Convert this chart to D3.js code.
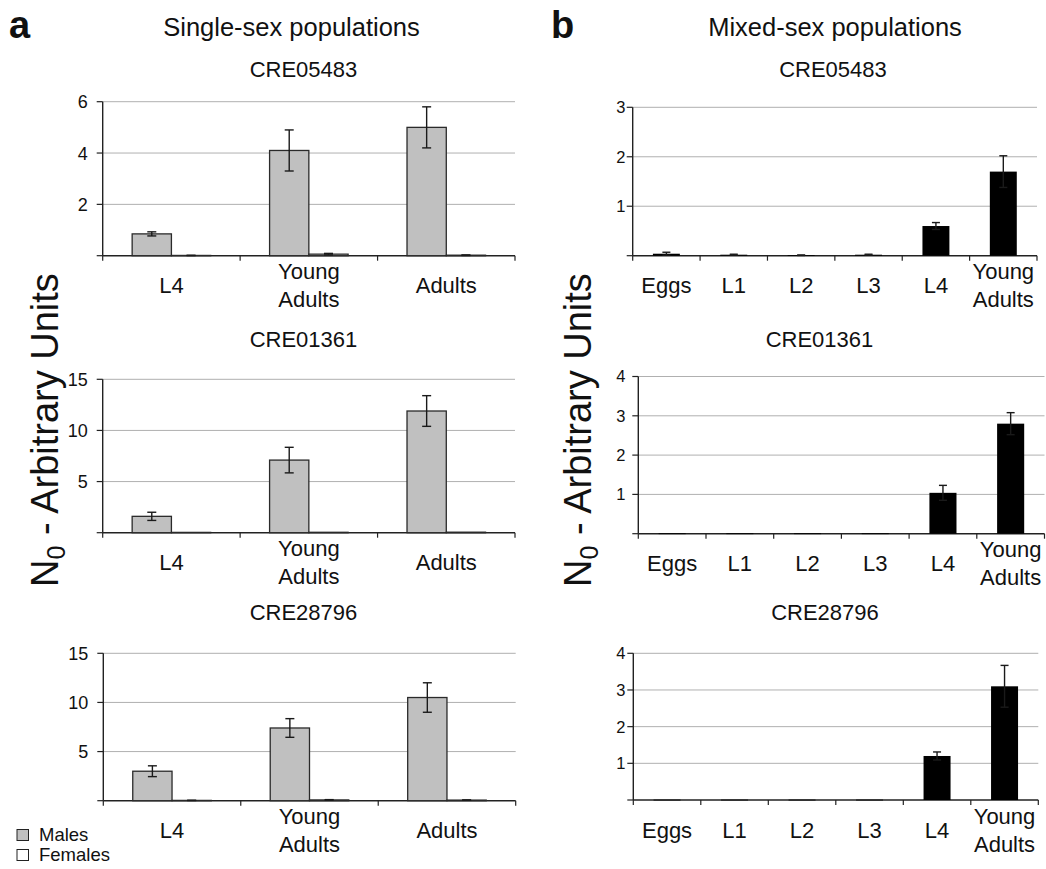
<!DOCTYPE html>
<html>
<head>
<meta charset="utf-8">
<script src="https://cdn.jsdelivr.net/npm/d3@7"></script>
<style>
  body { margin: 0; background: #fff; }
  svg { display: block; }
  text { font-family: "Liberation Sans", Arial, Helvetica, sans-serif; fill: #111; }
</style>
</head>
<body>
<svg id="fig" width="1046" height="869"></svg>
<script>
// ---- data -------------------------------------------------------------
const singleSexStages = ["L4", "Young Adults", "Adults"];
const mixedSexStages = ["Eggs", "L1", "L2", "L3", "L4", "Young Adults"];
const genes = ["CRE05483", "CRE01361", "CRE28796"];

// single-sex populations: males / females (mean, error)
const males05483 = [0.85, 4.1, 5.0];
const males05483Err = [0.08, 0.8, 0.8];
const females05483 = [0.01, 0.06, 0.02];
const females05483Err = [0.005, 0.03, 0.01];

const males01361 = [1.6, 7.1, 11.9];
const males01361Err = [0.4, 1.25, 1.5];
const females01361 = [0.03, 0.04, 0.05];
const females01361Err = [0, 0, 0];

const males28796 = [3.0, 7.4, 10.5];
const males28796Err = [0.55, 0.95, 1.5];
const females28796 = [0.03, 0.08, 0.06];
const females28796Err = [0.01, 0.03, 0.02];

// mixed-sex populations (mean, error)
const mixed05483 = [0.04, 0.02, 0.01, 0.02, 0.6, 1.7];
const mixed05483Err = [0.03, 0.01, 0.005, 0.01, 0.07, 0.32];
const mixed01361 = [0.01, 0.01, 0.01, 0.01, 1.04, 2.8];
const mixed01361Err = [0, 0, 0, 0, 0.19, 0.28];
const mixed28796 = [0.01, 0.01, 0.01, 0.01, 1.2, 3.1];
const mixed28796Err = [0, 0, 0, 0, 0.11, 0.57];

// y-axis tick labels
const ticksSingle05483 = [2, 4, 6];
const ticksSingle01361 = [5, 10, 15];
const ticksSingle28796 = [5, 10, 15];
const ticksMixed05483 = [1, 2, 3];
const ticksMixed01361 = [1, 2, 3, 4];
const ticksMixed28796 = [1, 2, 3, 4];

// ---- drawing ----------------------------------------------------------
const svg = d3.select("#fig");
const FONT_TICK_A = 18, FONT_TICK_B = 16.5, FONT_CAT = 22, FONT_SUB = 22;

function drawFrame(g, x, y, ticks, labelRight, tickFont) {
  const [x0, x1] = x.range();
  const base = y(0);
  // gridlines
  g.append("g").selectAll("line").data(ticks).join("line")
    .attr("x1", x0).attr("x2", x1)
    .attr("y1", d => y(d)).attr("y2", d => y(d))
    .attr("stroke", "#b0b0b0").attr("stroke-width", 1);
  // y axis line and ticks
  g.append("line").attr("x1", x0).attr("x2", x0)
    .attr("y1", y(ticks[ticks.length - 1])).attr("y2", base)
    .attr("stroke", "#222").attr("stroke-width", 1.4);
  g.append("g").selectAll("line").data([0, ...ticks]).join("line")
    .attr("x1", x0 - 6).attr("x2", x0)
    .attr("y1", d => y(d)).attr("y2", d => y(d))
    .attr("stroke", "#222").attr("stroke-width", 1.2);
  g.append("g").selectAll("text").data(ticks).join("text")
    .attr("x", labelRight).attr("y", d => y(d)).attr("dy", "0.36em")
    .attr("text-anchor", "end").attr("font-size", tickFont)
    .text(d => d);
  // x axis line and category boundary ticks
  g.append("line").attr("x1", x0).attr("x2", x1)
    .attr("y1", base).attr("y2", base)
    .attr("stroke", "#222").attr("stroke-width", 1.4);
  const bounds = x.domain().map(d => x(d)).concat([x1]);
  g.append("g").selectAll("line").data(bounds).join("line")
    .attr("x1", d => d).attr("x2", d => d)
    .attr("y1", base).attr("y2", base + 5)
    .attr("stroke", "#222").attr("stroke-width", 1.2);
  // category labels (two-line labels split on the space)
  x.domain().forEach(cat => {
    const cx = x(cat) + x.bandwidth() / 2;
    const words = cat.split(" ");
    if (words.length > 1) {
      words.forEach((w, i) => {
        g.append("text").attr("x", cx).attr("y", base + 23.5 + i * 28)
          .attr("text-anchor", "middle").attr("font-size", FONT_CAT).text(w);
      });
    } else {
      g.append("text").attr("x", cx).attr("y", base + 37.5)
        .attr("text-anchor", "middle").attr("font-size", FONT_CAT).text(cat);
    }
  });
}

function drawErrors(g, xs, y, vals, errs, w) {
  const rows = vals.map((v, i) => ({ x: xs[i], v, e: errs[i] })).filter(d => d.e > 0);
  const eg = g.append("g").attr("stroke", "#1a1a1a").attr("stroke-width", 1.4);
  eg.selectAll(".stem").data(rows).join("line")
    .attr("x1", d => d.x).attr("x2", d => d.x)
    .attr("y1", d => y(d.v + d.e)).attr("y2", d => y(Math.max(0, d.v - d.e)));
  eg.selectAll(".capTop").data(rows).join("line")
    .attr("x1", d => d.x - w / 2).attr("x2", d => d.x + w / 2)
    .attr("y1", d => y(d.v + d.e)).attr("y2", d => y(d.v + d.e));
  eg.selectAll(".capBot").data(rows).join("line")
    .attr("x1", d => d.x - w / 2).attr("x2", d => d.x + w / 2)
    .attr("y1", d => y(Math.max(0, d.v - d.e))).attr("y2", d => y(Math.max(0, d.v - d.e)));
}

// Single-sex panels: grouped bars (males grey, females white)
const singlePanels = [
  { gene: genes[0], m: males05483, me: males05483Err, f: females05483, fe: females05483Err, ticks: ticksSingle05483,
    x0: 102.7, x1: 515, yTop: 101.7, yBase: 255.7, titleY: 76.7 },
  { gene: genes[1], m: males01361, me: males01361Err, f: females01361, fe: females01361Err, ticks: ticksSingle01361,
    x0: 102.7, x1: 515, yTop: 379.3, yBase: 532.7, titleY: 346.7 },
  { gene: genes[2], m: males28796, me: males28796Err, f: females28796, fe: females28796Err, ticks: ticksSingle28796,
    x0: 103.3, x1: 515.7, yTop: 653.3, yBase: 800.7, titleY: 620 }
];

singlePanels.forEach(p => {
  const g = svg.append("g");
  const x = d3.scaleBand().domain(singleSexStages).range([p.x0, p.x1]).paddingInner(0).paddingOuter(0);
  const y = d3.scaleLinear().domain([0, p.ticks[p.ticks.length - 1]]).range([p.yBase, p.yTop]);
  drawFrame(g, x, y, p.ticks, p.x0 - 15, FONT_TICK_A);
  const bw = x.bandwidth() / 3.5;
  const mx = singleSexStages.map(s => x(s) + x.bandwidth() / 2 - bw);
  const fx = singleSexStages.map(s => x(s) + x.bandwidth() / 2);
  g.append("g").selectAll("rect").data(p.m).join("rect")
    .attr("x", (d, i) => mx[i]).attr("width", bw)
    .attr("y", d => y(d)).attr("height", d => y(0) - y(d))
    .attr("fill", "#c0c0c0").attr("stroke", "#2a2a2a").attr("stroke-width", 1.3);
  g.append("g").selectAll("rect").data(p.f).join("rect")
    .attr("x", (d, i) => fx[i]).attr("width", bw)
    .attr("y", d => y(d)).attr("height", d => y(0) - y(d))
    .attr("fill", "#fff").attr("stroke", "#2a2a2a").attr("stroke-width", 1.3);
  drawErrors(g, mx.map(v => v + bw / 2), y, p.m, p.me, 9);
  drawErrors(g, fx.map(v => v + bw / 2), y, p.f, p.fe, 9);
  g.append("text").attr("x", 303.5).attr("y", p.titleY).attr("text-anchor", "middle")
    .attr("font-size", FONT_SUB).text(p.gene);
});

// Mixed-sex panels: single black series
const mixedPanels = [
  { gene: genes[0], v: mixed05483, e: mixed05483Err, ticks: ticksMixed05483,
    x0: 632.7, x1: 1037, yTop: 107.3, yBase: 255.7, titleY: 76.7, titleX: 833 },
  { gene: genes[1], v: mixed01361, e: mixed01361Err, ticks: ticksMixed01361,
    x0: 638.3, x1: 1044.5, yTop: 376.5, yBase: 533.7, titleY: 346.7, titleX: 819.5 },
  { gene: genes[2], v: mixed28796, e: mixed28796Err, ticks: ticksMixed28796,
    x0: 633.3, x1: 1038.3, yTop: 653.3, yBase: 800, titleY: 620, titleX: 825 }
];

mixedPanels.forEach(p => {
  const g = svg.append("g");
  const x = d3.scaleBand().domain(mixedSexStages).range([p.x0, p.x1]).paddingInner(0).paddingOuter(0);
  const y = d3.scaleLinear().domain([0, p.ticks[p.ticks.length - 1]]).range([p.yBase, p.yTop]);
  drawFrame(g, x, y, p.ticks, 625.5, FONT_TICK_B);
  const bw = x.bandwidth() / 2.5;
  const bx = mixedSexStages.map(s => x(s) + (x.bandwidth() - bw) / 2);
  g.append("g").selectAll("rect").data(p.v).join("rect")
    .attr("x", (d, i) => bx[i]).attr("width", bw)
    .attr("y", d => y(d)).attr("height", d => Math.max(0.8, y(0) - y(d)))
    .attr("fill", "#000");
  drawErrors(g, bx.map(v => v + bw / 2), y, p.v, p.e, 8);
  g.append("text").attr("x", p.titleX).attr("y", p.titleY).attr("text-anchor", "middle")
    .attr("font-size", FONT_SUB).text(p.gene);
});

// Panel letters and headings
svg.append("text").attr("x", 9).attr("y", 38).attr("font-size", 38).attr("font-weight", "bold").text("a");
svg.append("text").attr("x", 551).attr("y", 38).attr("font-size", 38).attr("font-weight", "bold").text("b");
svg.append("text").attr("x", 291.5).attr("y", 35.7).attr("text-anchor", "middle").attr("font-size", 25.5)
  .text("Single-sex populations");
svg.append("text").attr("x", 835).attr("y", 35.7).attr("text-anchor", "middle").attr("font-size", 25.5)
  .text("Mixed-sex populations");

// Shared y-axis titles
[44, 577].forEach(cx => {
  const t = svg.append("text")
    .attr("transform", `translate(${cx + 14},430) rotate(-90)`)
    .attr("text-anchor", "middle").attr("font-size", 38);
  t.append("tspan").text("N");
  t.append("tspan").attr("font-size", 25).attr("dy", 7).text("0");
  t.append("tspan").attr("dy", -7).text(" - Arbitrary Units");
});

// Legend
const legendItems = [{ label: "Males", fill: "#c0c0c0" }, { label: "Females", fill: "#fff" }];
const lg = svg.append("g");
lg.selectAll("rect").data(legendItems).join("rect")
  .attr("x", 17).attr("y", (d, i) => 829.5 + i * 20).attr("width", 11.5).attr("height", 11)
  .attr("fill", d => d.fill).attr("stroke", "#222").attr("stroke-width", 1);
lg.selectAll("text").data(legendItems).join("text")
  .attr("x", 39).attr("y", (d, i) => 841 + i * 20).attr("font-size", 18.5)
  .text(d => d.label);
</script>
</body>
</html>
